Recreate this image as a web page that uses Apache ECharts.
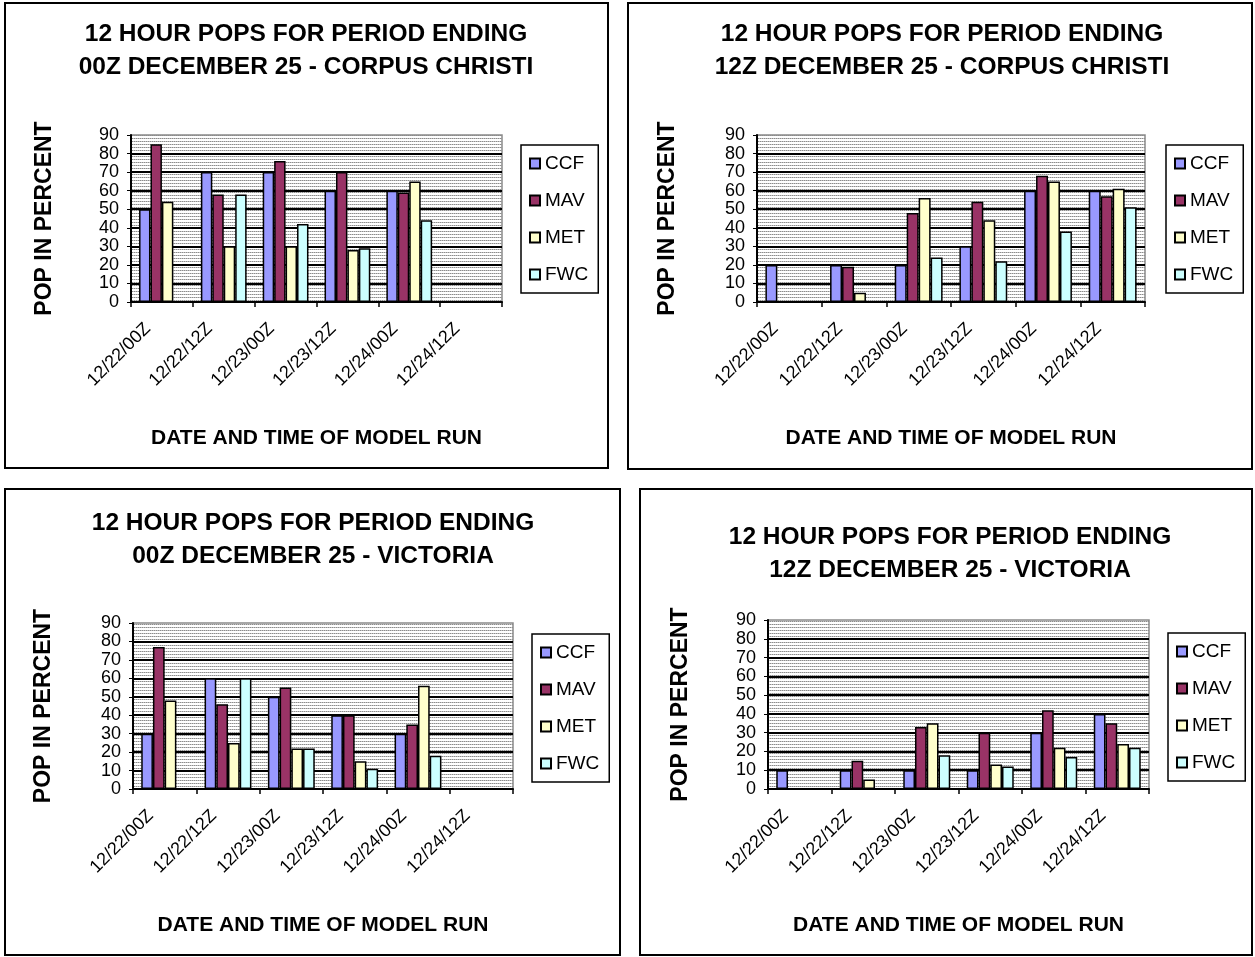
<!DOCTYPE html>
<html>
<head>
<meta charset="utf-8">
<script src="https://cdn.jsdelivr.net/npm/echarts@6/dist/echarts.min.js"></script>
<style>
html,body{margin:0;padding:0;background:#fff;}
#main{width:1255px;height:957px;}
</style>
</head>
<body>
<div id="main"></div>
<script>
// ---- data ----
const categories = ['12/22/00Z','12/22/12Z','12/23/00Z','12/23/12Z','12/24/00Z','12/24/12Z'];
const seriesNames = ['CCF','MAV','MET','FWC'];
const yTicks = [0,10,20,30,40,50,60,70,80,90];

// Corpus Christi, period ending 00Z Dec 25
const ccCCF00 = [50, 70, 70, 60, 60, null];
const ccMAV00 = [85, 58, 76, 70, 59, null];
const ccMET00 = [54, 30, 30, 28, 65, null];
const ccFWC00 = [null, 58, 42, 29, 44, null];

// Corpus Christi, period ending 12Z Dec 25
const ccCCF12 = [20, 20, 20, 30, 60, 60];
const ccMAV12 = [null, 19, 48, 54, 68, 57];
const ccMET12 = [null, 5, 56, 44, 65, 61];
const ccFWC12 = [null, null, 24, 22, 38, 51];

// Victoria, period ending 00Z Dec 25
const vcCCF00 = [30, 60, 50, 40, 30, null];
const vcMAV00 = [77, 46, 55, 40, 35, null];
const vcMET00 = [48, 25, 22, 15, 56, null];
const vcFWC00 = [null, 60, 22, 11, 18, null];

// Victoria, period ending 12Z Dec 25
const vcCCF12 = [10, 10, 10, 10, 30, 40];
const vcMAV12 = [null, 15, 33, 30, 42, 35];
const vcMET12 = [null, 5, 35, 13, 22, 24];
const vcFWC12 = [null, null, 18, 12, 17, 22];

const titleLine1 = '12 HOUR POPS FOR PERIOD ENDING';
const titles2 = ['00Z DECEMBER 25 - CORPUS CHRISTI','12Z DECEMBER 25 - CORPUS CHRISTI','00Z DECEMBER 25 - VICTORIA','12Z DECEMBER 25 - VICTORIA'];
const yName = 'POP IN PERCENT';
const xName = 'DATE AND TIME OF MODEL RUN';

const colors = ['#9999FF','#993366','#FFFFCC','#CCFFFF'];
const FONT = 'Liberation Sans, Arial, sans-serif';

// hatch pattern for plot background
const pc = document.createElement('canvas');
pc.width = 4; pc.height = 3;
const pctx = pc.getContext('2d');
pctx.fillStyle = '#ffffff'; pctx.fillRect(0,0,4,3);
pctx.fillStyle = '#8c8c8c'; pctx.fillRect(0,0,1,1); pctx.fillRect(2,0,1,1);
pctx.fillStyle = '#c4c4c4'; pctx.fillRect(1,0,1,1); pctx.fillRect(3,0,1,1);

const panels = [
  {box:[5,3,603,465], grid:{left:131, top:135, width:371, height:167}, titleX:301, titleY:13, legend:{left:521, top:145}, yGap:75, xGap:126,
   data:[ccCCF00, ccMAV00, ccMET00, ccFWC00]},
  {box:[628,3,624,466], grid:{left:757, top:135, width:388, height:167}, titleX:937, titleY:13, legend:{left:1166, top:145}, yGap:78, xGap:126,
   data:[ccCCF12, ccMAV12, ccMET12, ccFWC12]},
  {box:[5,489,615,466], grid:{left:133, top:623, width:380, height:166}, titleX:308, titleY:502, legend:{left:532, top:634}, yGap:78, xGap:126,
   data:[vcCCF00, vcMAV00, vcMET00, vcFWC00]},
  {box:[640,489,612,466], grid:{left:768, top:620, width:381, height:169}, titleX:945, titleY:516, legend:{left:1168, top:633}, yGap:76, xGap:126,
   data:[vcCCF12, vcMAV12, vcMET12, vcFWC12]}
];

const option = {
  animation: false,
  backgroundColor: '#fff',
  title: [], grid: [], xAxis: [], yAxis: [], legend: [], series: [],
  graphic: []
};

panels.forEach((p, i) => {
  option.graphic.push({
    type: 'rect', shape: {x: p.box[0], y: p.box[1], width: p.box[2], height: p.box[3]},
    style: {fill: null, stroke: '#000', lineWidth: 2}, silent: true, z: -1
  });
  option.title.push({
    text: titleLine1 + '\n' + titles2[i],
    left: p.titleX, top: p.titleY, textAlign: 'center',
    textStyle: {fontFamily: FONT, fontWeight: 'bold', fontSize: 24.5, lineHeight: 33, color: '#000'}
  });
  option.grid.push({
    left: p.grid.left, top: p.grid.top, width: p.grid.width, height: p.grid.height,
    show: true, backgroundColor: {image: pc, repeat: 'repeat'},
    borderColor: '#8a8a8a', borderWidth: 1.5, containLabel: false
  });
  option.xAxis.push({
    type: 'category', gridIndex: i, data: categories, boundaryGap: true,
    name: xName, nameLocation: 'middle', nameGap: p.xGap,
    nameTextStyle: {fontFamily: FONT, fontWeight: 'bold', fontSize: 21, color: '#000'},
    axisLine: {show: true, lineStyle: {color: '#000', width: 2}},
    axisTick: {show: true, length: 5, lineStyle: {color: '#000', width: 1.5}},
    axisLabel: {interval: 0, rotate: 45, margin: -3, verticalAlign: 'top', padding: [0, 29, 0, 0],
      fontFamily: FONT, fontSize: 18, color: '#000'},
    splitLine: {show: false}
  });
  option.yAxis.push({
    type: 'value', gridIndex: i, min: 0, max: 90, interval: 10,
    name: yName, nameLocation: 'middle', nameGap: p.yGap, nameRotate: 90,
    nameTextStyle: {fontFamily: FONT, fontWeight: 'bold', fontSize: 23, color: '#000'},
    axisLine: {show: true, lineStyle: {color: '#000', width: 2}},
    axisTick: {show: true, length: 4, lineStyle: {color: '#000', width: 1}},
    axisLabel: {margin: 12, fontFamily: FONT, fontSize: 18, color: '#000',
      formatter: v => (yTicks.indexOf(v) >= 0 ? String(v) : '')},
    splitLine: {show: true, showMaxLine: false, lineStyle: {color: '#000', width: 1.8}}
  });
  option.legend.push({
    orient: 'vertical', left: p.legend.left, top: p.legend.top,
    data: seriesNames,
    itemWidth: 10, itemHeight: 10, itemGap: 18, icon: 'rect',
    padding: [9, 10, 9, 8],
    borderColor: '#000', borderWidth: 1.5, backgroundColor: '#fff',
    textStyle: {fontFamily: FONT, fontSize: 19, color: '#000', lineHeight: 18},
    selectedMode: false
  });
  seriesNames.forEach((name, k) => {
    option.series.push({
      type: 'bar', name: name, xAxisIndex: i, yAxisIndex: i,
      data: p.data[k],
      barGap: '0%', barCategoryGap: '26%',
      itemStyle: {color: colors[k], borderColor: '#000', borderWidth: 1.5}
    });
  });
});

const chart = echarts.init(document.getElementById('main'), null, {renderer: 'canvas'});
chart.setOption(option);
</script>
</body>
</html>
